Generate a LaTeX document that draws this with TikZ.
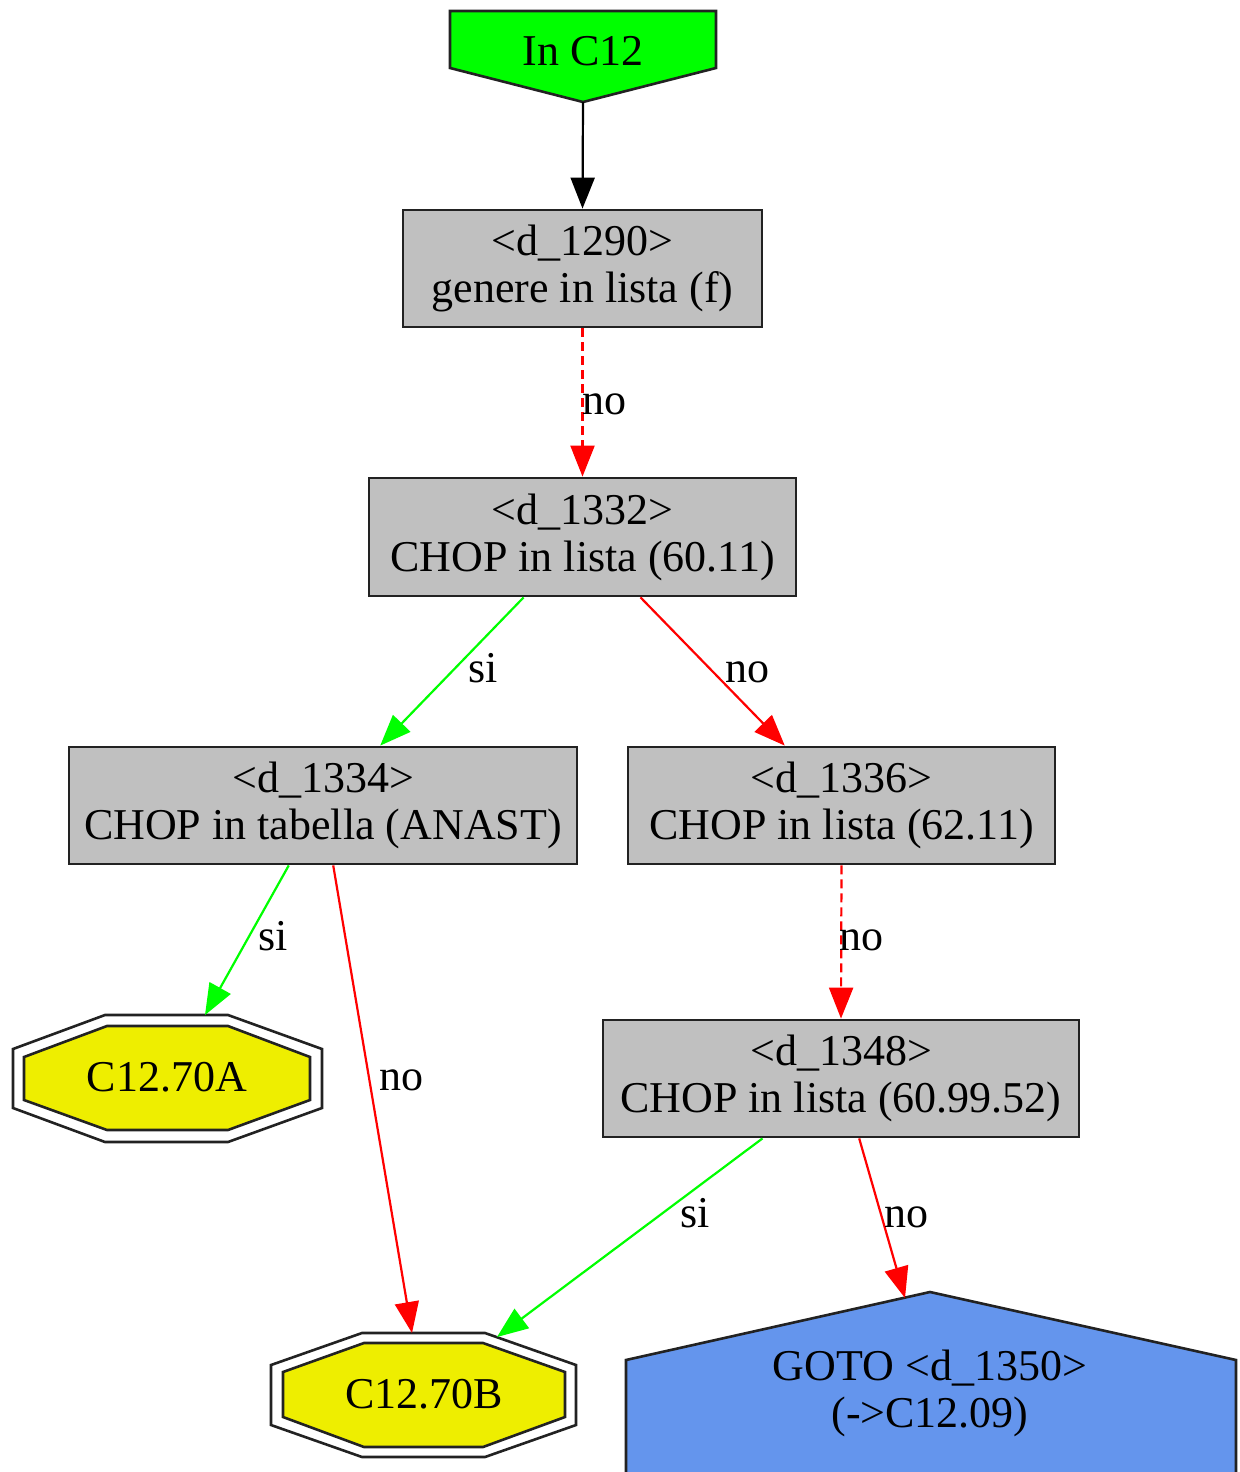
\documentclass[tikz,border=0pt]{standalone}
\usepackage{fontspec}
\setmainfont{Liberation Serif}
\usetikzlibrary{arrows.meta,calc}
\definecolor{boxgray}{HTML}{C0C0C0}
\definecolor{startgreen}{HTML}{00FF00}
\definecolor{leafyellow}{HTML}{EEEE00}
\definecolor{gotoblue}{HTML}{6495ED}
\definecolor{connGreen}{HTML}{00FF00}
\definecolor{connRed}{HTML}{FF0000}
\definecolor{borderdark}{HTML}{222222}
\begin{document}
\begin{tikzpicture}[x=0.5pt,y=-0.5pt,
  font=\fontsize{22}{23.5}\selectfont,
  decbox/.style={draw=borderdark, line width=1.4pt, fill=boxgray, rectangle,
    align=center, inner sep=0pt, minimum height=58.5pt},
  shapeline/.style={draw=borderdark, line width=1.3pt},
  conn/.style={line width=1.1pt, -{Triangle[length=15.5pt,width=12pt]}},
  connblack/.style={conn, draw=black},
  connyes/.style={conn, draw=connGreen},
  connno/.style={conn, draw=connRed},
  dashconn/.style={dash pattern=on 4.5pt off 2.5pt},
  lbl/.style={inner sep=0pt, anchor=base},
  plain/.style={inner sep=0pt, align=center}]
\useasboundingbox (0,0) rectangle (1239,1472);
\clip (0,0) rectangle (1239,1472);

% start node
\draw[shapeline, fill=startgreen] (450,11) -- (716,11) -- (716,68) -- (583,102) -- (450,68) -- cycle;
\node[plain] (inc12) at (583,51) {In C12};
\coordinate (inc12tip) at (583,102);

% decision boxes
\node[decbox, minimum width=179.5pt] (d1290) at (582.5,268.5) {<d\_1290>\\genere in lista (f)};
\node[decbox, minimum width=213.5pt, minimum height=59pt] (d1332) at (582.5,537) {<d\_1332>\\CHOP in lista (60.11)};
\node[decbox, minimum width=254pt] (d1334) at (323,805.5) {<d\_1334>\\CHOP in tabella (ANAST)};
\node[decbox, minimum width=213.5pt] (d1336) at (841.5,805.5) {<d\_1336>\\CHOP in lista (62.11)};
\node[decbox, minimum width=238pt] (d1348) at (841,1078.5) {<d\_1348>\\CHOP in lista (60.99.52)};

% leaf C12.70A (double octagon)
\draw[shapeline] (105,1015) -- (228,1015) -- (322,1049) -- (322,1108) -- (228,1142) -- (105,1142) -- (13,1108) -- (13,1049) -- cycle;
\draw[shapeline, fill=leafyellow] (107,1026) -- (228,1026) -- (310,1057) -- (310,1100) -- (228,1130) -- (107,1130) -- (24,1100) -- (24,1057) -- cycle;
\node[plain] (c70a) at (167,1077) {C12.70A};
\coordinate (c70aTop) at (205,1015);

% leaf C12.70B (double octagon)
\draw[shapeline] (362,1333) -- (485,1333) -- (576,1365) -- (576,1425) -- (485,1457) -- (362,1457) -- (271,1425) -- (271,1365) -- cycle;
\draw[shapeline, fill=leafyellow] (364,1343) -- (483,1343) -- (565,1372) -- (565,1417) -- (483,1447) -- (364,1447) -- (283,1417) -- (283,1372) -- cycle;
\node[plain] (c70b) at (424,1394) {C12.70B};
\coordinate (c70bTop) at (412,1333);
\coordinate (c70bRight) at (497,1337);

% GOTO house
\draw[shapeline, fill=gotoblue] (626,1520) -- (626,1360) -- (930,1292) -- (1236,1360) -- (1236,1520) -- cycle;
\node[plain] (goto) at (930,1393) {GOTO <d\_1350>\\(->C12.09)};
\coordinate (gotoLeft) at (905,1298);

% connectors
\draw[connblack] (inc12tip) -- (d1290.north);
\draw[connno, dashconn] (d1290.south) -- (d1332.north);
\draw[connyes] ($(d1332.south west)!0.363!(d1332.south east)$) -- ($(d1334.north west)!0.612!(d1334.north east)$);
\draw[connno] ($(d1332.south west)!0.635!(d1332.south east)$) -- ($(d1336.north west)!0.368!(d1336.north east)$);
\draw[connyes] ($(d1334.south west)!0.433!(d1334.south east)$) -- (c70aTop);
\draw[connno] ($(d1334.south west)!0.52!(d1334.south east)$) -- (c70bTop);
\draw[connno, dashconn] (d1336.south) -- (d1348.north);
\draw[connyes] ($(d1348.south west)!0.336!(d1348.south east)$) -- (c70bRight);
\draw[connno] ($(d1348.south west)!0.538!(d1348.south east)$) -- (gotoLeft);

% edge labels
\node[lbl] (l1) at (604,414) {no};
\node[lbl] (l2) at (483,682) {si};
\node[lbl] (l3) at (747,682) {no};
\node[lbl] (l4) at (273,950) {si};
\node[lbl] (l5) at (401,1090) {no};
\node[lbl] (l6) at (861,950) {no};
\node[lbl] (l7) at (695,1227) {si};
\node[lbl] (l8) at (906,1227) {no};
\end{tikzpicture}
\end{document}
